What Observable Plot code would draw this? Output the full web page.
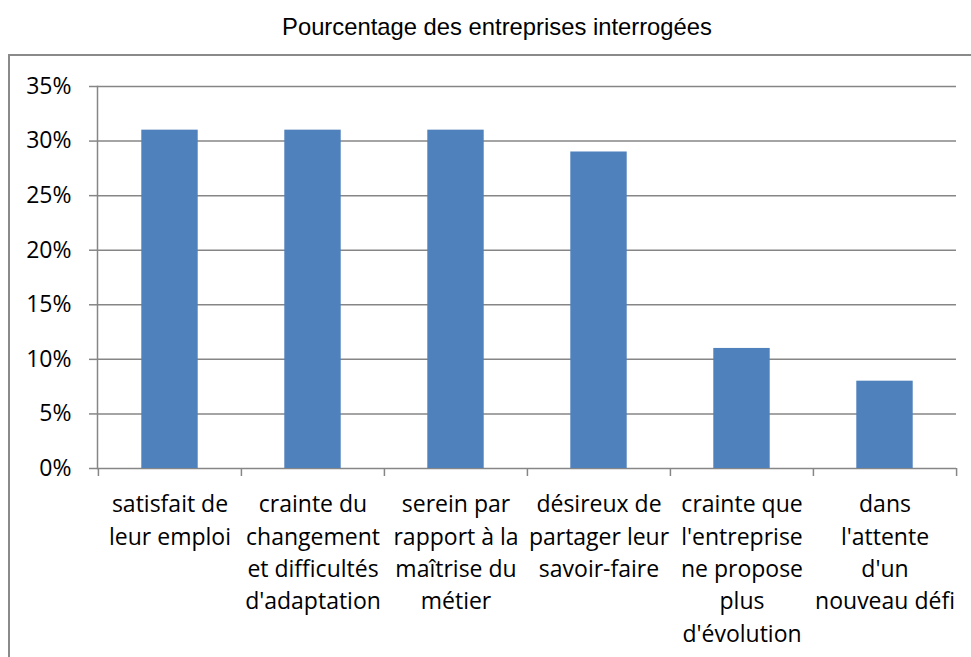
<!DOCTYPE html>
<html><head><meta charset="utf-8">
<script src="https://cdn.jsdelivr.net/npm/d3@7"></script>
<script src="https://cdn.jsdelivr.net/npm/@observablehq/plot@0.6"></script>
<style>
html,body{margin:0;padding:0;background:#fff}
body{width:971px;height:657px;overflow:hidden;position:relative;font-family:"Open Sans",sans-serif;color:#000}
#title{position:absolute;top:13px;left:0;width:994px;text-align:center;font-family:"Liberation Sans",Arial,sans-serif;font-size:23.8px;line-height:28px;white-space:nowrap}
#frame{position:absolute;left:8px;top:54px;width:1000px;height:700px;border:2px solid #8a8a8a;box-sizing:border-box}
#chart{position:absolute;left:0;top:55px}
</style></head>
<body>
<div id="title">Pourcentage des entreprises interrogées</div>
<div id="frame"></div>
<div id="chart"></div>
<script>
const categories = [
  "satisfait de\nleur emploi",
  "crainte du\nchangement\net difficultés\nd'adaptation",
  "serein par\nrapport à la\nmaîtrise du\nmétier",
  "désireux de\npartager leur\nsavoir-faire",
  "crainte que\nl'entreprise\nne propose\nplus\nd'évolution",
  "dans\nl'attente\nd'un\nnouveau défi"
];
const values = [31, 31, 31, 29, 11, 8];
const yTicks = [0, 5, 10, 15, 20, 25, 30, 35];

const data = categories.map((c, i) => ({category: c, value: values[i]}));
const W = 971, H = 602, mL = 97, mR = 15;
const step = (W - mL - mR) / categories.length;
const grey = "#868686";

const chart = Plot.plot({
  width: W, height: H,
  marginLeft: mL, marginRight: mR, marginTop: 31, marginBottom: 189,
  style: {fontFamily: "'Open Sans', sans-serif", fontSize: "23px", color: "#000", background: "transparent", overflow: "visible"},
  x: {domain: categories, padding: 0, axis: null},
  y: {domain: [0, 35], axis: null},
  marks: [
    Plot.ruleY(yTicks, {y: d => d, stroke: grey, strokeWidth: 1.5}),
    Plot.frame({anchor: "left", stroke: grey, strokeWidth: 1.5}),
    Plot.axisY({ticks: yTicks, tickSize: 8, tickPadding: 18, tickFormat: d => d + "%", stroke: grey, strokeWidth: 1.5, fontSize: 23, fill: "#000", label: null}),
    Plot.axisX({ticks: categories, tickSize: 8, tickFormat: () => "", dx: -step / 2, stroke: grey, strokeWidth: 1.5, label: null}),
    Plot.axisX({ticks: [categories[categories.length - 1]], tickSize: 8, tickFormat: () => "", dx: step / 2, stroke: grey, strokeWidth: 1.5, label: null}),
    Plot.barY(data, {x: "category", y: "value", fill: "#4f81bd", insetLeft: 43.3, insetRight: 43.3}),
    Plot.text(data, {x: "category", text: "category", frameAnchor: "bottom", lineAnchor: "top", dy: 21, lineHeight: 1.405, fontSize: 23, fill: "#000"})
  ]
});
document.getElementById("chart").appendChild(chart);
</script>
</body></html>
